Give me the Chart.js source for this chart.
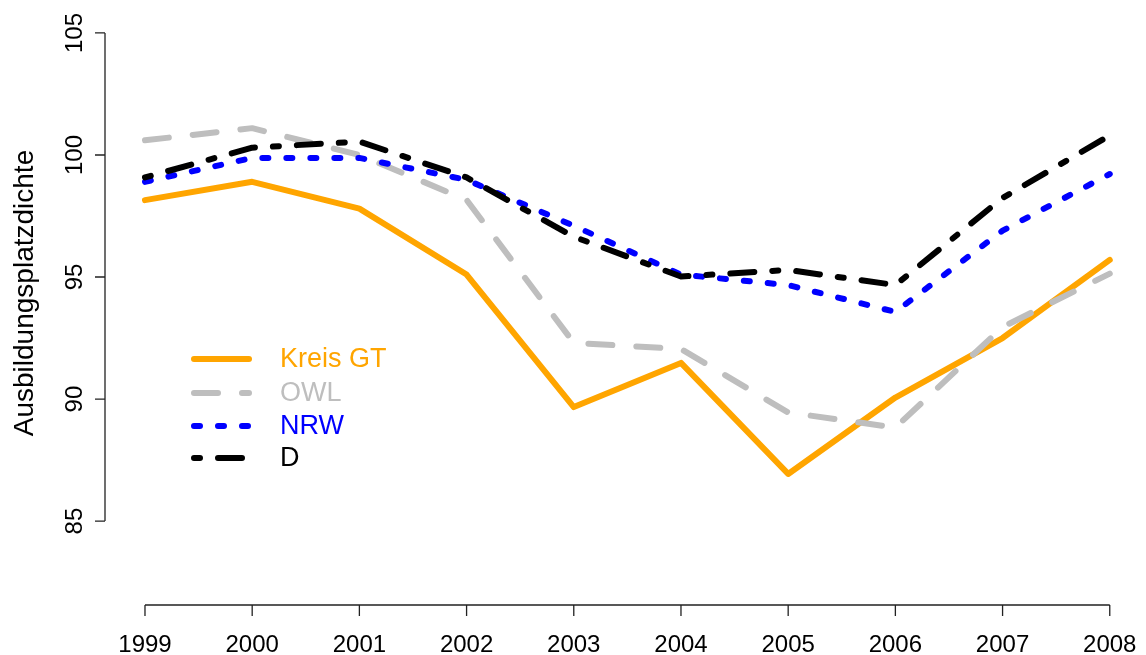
<!DOCTYPE html>
<html>
<head>
<meta charset="utf-8">
<script src="https://cdn.jsdelivr.net/npm/chart.js@4/dist/chart.umd.min.js"></script>
<style>
  html, body { margin: 0; padding: 0; background: #fff; }
  #wrap { width: 1146px; height: 655px; }
</style>
</head>
<body>
<div id="wrap"><canvas id="plot" width="1146" height="655"></canvas></div>
<script>
// data
const years = [1999, 2000, 2001, 2002, 2003, 2004, 2005, 2006, 2007, 2008];
const kreisGT = [98.15, 98.9, 97.8, 95.1, 89.67, 91.48, 86.93, 90.06, 92.5, 95.7];
const owl = [100.6, 101.1, 100.0, 98.16, 92.3, 92.05, 89.45, 88.83, 92.95, 95.14];
const nrw = [98.9, 99.88, 99.88, 98.98, 97.1, 95.1, 94.67, 93.57, 96.9, 99.22];
const deutschland = [99.08, 100.3, 100.55, 99.08, 96.65, 95.02, 95.29, 94.67, 98.24, 100.8];

const yTicks = [85, 90, 95, 100, 105];
const yTitle = 'Ausbildungsplatzdichte';
const seriesNames = ['Kreis GT', 'OWL', 'NRW', 'D'];

const FONT = '"Liberation Sans", Arial, Helvetica, sans-serif';

function pts(values) {
  return values.map((v, i) => ({ x: years[i], y: v }));
}

function line(label, values, color, dash, order) {
  return {
    label: label,
    data: pts(values),
    borderColor: color,
    backgroundColor: color,
    borderWidth: 6,
    borderDash: dash,
    borderCapStyle: 'round',
    borderJoinStyle: 'round',
    pointRadius: 0,
    tension: 0,
    fill: false,
    order: order
  };
}

// R style axes, tick labels, y title and legend
const baseAxes = {
  id: 'baseAxes',
  afterDraw(chart) {
    const ctx = chart.ctx;
    const xs = chart.scales.x;
    const ys = chart.scales.y;
    const axisY = 605;
    const axisX = 105;

    ctx.save();
    ctx.strokeStyle = '#222';
    ctx.lineWidth = 1.3;
    ctx.fillStyle = '#000';

    // x axis
    ctx.beginPath();
    ctx.moveTo(xs.getPixelForValue(years[0]), axisY);
    ctx.lineTo(xs.getPixelForValue(years[years.length - 1]), axisY);
    years.forEach(yr => {
      const px = xs.getPixelForValue(yr);
      ctx.moveTo(px, axisY);
      ctx.lineTo(px, axisY + 11);
    });
    ctx.stroke();

    ctx.font = '24px ' + FONT;
    ctx.textAlign = 'center';
    ctx.textBaseline = 'alphabetic';
    years.forEach(yr => {
      ctx.fillText(String(yr), xs.getPixelForValue(yr), 652);
    });

    // y axis
    ctx.beginPath();
    ctx.moveTo(axisX, ys.getPixelForValue(yTicks[0]));
    ctx.lineTo(axisX, ys.getPixelForValue(yTicks[yTicks.length - 1]));
    yTicks.forEach(t => {
      const py = ys.getPixelForValue(t);
      ctx.moveTo(axisX, py);
      ctx.lineTo(axisX - 10, py);
    });
    ctx.stroke();

    yTicks.forEach(t => {
      ctx.save();
      ctx.translate(82, ys.getPixelForValue(t));
      ctx.rotate(-Math.PI / 2);
      ctx.fillText(String(t), 0, 0);
      ctx.restore();
    });

    // y title
    ctx.save();
    ctx.font = '28px ' + FONT;
    ctx.translate(33, (ys.getPixelForValue(85) + ys.getPixelForValue(105)) / 2 + 16);
    ctx.rotate(-Math.PI / 2);
    ctx.fillText(yTitle, 0, 0);
    ctx.restore();

    // legend
    const rows = [359, 393, 426, 458];
    chart.data.datasets.forEach((ds, i) => {
      const ry = rows[i];
      ctx.beginPath();
      ctx.setLineDash(ds.borderDash || []);
      ctx.lineDashOffset = 0;
      ctx.lineCap = 'round';
      ctx.lineWidth = ds.borderWidth;
      ctx.strokeStyle = ds.borderColor;
      ctx.moveTo(194, ry);
      ctx.lineTo(249, ry);
      ctx.stroke();
      ctx.setLineDash([]);

      ctx.font = '27px ' + FONT;
      ctx.textAlign = 'left';
      ctx.textBaseline = 'middle';
      ctx.fillStyle = ds.borderColor;
      ctx.fillText(ds.label, 280, ry + 1);
    });

    ctx.restore();
  }
};

const chart = new Chart(document.getElementById('plot').getContext('2d'), {
  type: 'line',
  data: {
    datasets: [
      line(seriesNames[0], kreisGT, '#FFA500', [], 4),
      line(seriesNames[1], owl, '#BEBEBE', [24, 24], 3),
      line(seriesNames[2], nrw, '#0000FF', [6, 18], 2),
      line(seriesNames[3], deutschland, '#000000', [6, 18, 24, 18], 1)
    ]
  },
  options: {
    responsive: false,
    animation: false,
    devicePixelRatio: 1,
    layout: { padding: { left: 105, top: 11, right: 0, bottom: 50 } },
    plugins: {
      legend: { display: false },
      tooltip: { enabled: false }
    },
    scales: {
      x: { type: 'linear', display: false, min: 1998.627, max: 2008.338 },
      y: { type: 'linear', display: false, min: 81.56, max: 105.9 }
    }
  },
  plugins: [baseAxes]
});
</script>
</body>
</html>
